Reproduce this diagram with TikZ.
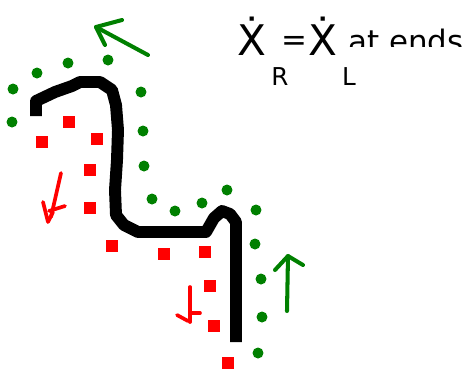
\documentclass[tikz,border=0pt]{standalone}
\usepackage{fontspec}
\setmainfont{DejaVu Sans}
\usetikzlibrary{positioning}
\definecolor{PenGreen}{HTML}{008000}
\definecolor{PenRed}{HTML}{FF0000}

\begin{document}
\begin{tikzpicture}[x=0.02cm,y=-0.02cm,
  greendot/.style={circle,fill=PenGreen,inner sep=0pt,minimum size=0.22cm},
  redsq/.style={rectangle,fill=PenRed,inner sep=0pt,minimum size=0.24cm},
  greenpen/.style={PenGreen,line width=2.3pt,line cap=round,line join=round},
  redpen/.style={PenRed,line width=2.1pt,line cap=round,line join=round}]
\useasboundingbox (0,0) rectangle (464,370);
% the wire
\draw[line width=6.8pt,line join=round] (36,116)--(36,101)--(55,92)--(72,86)--(80,82)--(100,82)--(112,90)--(116,105)--(118,130)--(117,160)--(115,190)--(116,215)--(124,225)--(138,232)--(206,232)--(214,218)--(222,211)--(230,214)--(236,222)--(236,342);
% green dots, outer side
\node[greendot] (g1) at (12,122) {};
\node[greendot] (g2) at (13,89) {};
\node[greendot] (g3) at (37,73) {};
\node[greendot] (g4) at (68,63) {};
\node[greendot] (g5) at (108,60) {};
\node[greendot] (g6) at (141,92) {};
\node[greendot] (g7) at (143,131) {};
\node[greendot] (g8) at (144,166) {};
\node[greendot] (g9) at (152,199) {};
\node[greendot] (g10) at (175,211) {};
\node[greendot] (g11) at (202,203) {};
\node[greendot] (g12) at (227,190) {};
\node[greendot] (g13) at (256,210) {};
\node[greendot] (g14) at (255,244) {};
\node[greendot] (g15) at (261,279) {};
\node[greendot] (g16) at (262,317) {};
\node[greendot] (g17) at (258,353) {};
% red squares, inner side
\node[redsq] (r1) at (42,142) {};
\node[redsq] (r2) at (69,122) {};
\node[redsq] (r3) at (97,139) {};
\node[redsq] (r4) at (90,170) {};
\node[redsq] (r5) at (90,208) {};
\node[redsq] (r6) at (112,246) {};
\node[redsq] (r7) at (164,254) {};
\node[redsq] (r8) at (205,252) {};
\node[redsq] (r9) at (210,286) {};
\node[redsq] (r10) at (214,326) {};
\node[redsq] (r11) at (228,363) {};
% green arrows
\draw[greenpen] (148,55)--(96,27);
\draw[greenpen] (122,20)--(96,27)--(105,45);
\draw[greenpen] (287,311)--(288,256);
\draw[greenpen] (275,270)--(288,256)--(303,265);
% red arrows
\draw[redpen] (61,173)--(51,217);
\draw[redpen] (43,202)--(48,222)--(53,212);
\draw[redpen] (49,211)--(65,206);
\draw[redpen] (190,287)--(190,322);
\draw[redpen] (190,313)--(200,313);
\draw[redpen] (177,315)--(188,321);
% label
\node[anchor=base,inner sep=0pt,font=\fontsize{24}{28}\selectfont] (xr) at (252,55) {\.{X}};
\node[anchor=base,inner sep=0pt,font=\fontsize{14}{16}\selectfont] (sr) at (280,85) {R};
\node[anchor=base,inner sep=0pt,font=\fontsize{17.6}{20}\selectfont] (eq) at (294,50) {=};
\node[anchor=base,inner sep=0pt,font=\fontsize{24}{28}\selectfont] (xl) at (323,55) {\.{X}};
\node[anchor=base,inner sep=0pt,font=\fontsize{14}{16}\selectfont] (sl) at (349,85) {L};
\begin{scope}
\clip (340,0) rectangle (464,46);
\node[anchor=base west,inner sep=0pt,font=\fontsize{17.6}{20}\selectfont] (ends) at (348,52) {at ends};
\end{scope}
\end{tikzpicture}
\end{document}
